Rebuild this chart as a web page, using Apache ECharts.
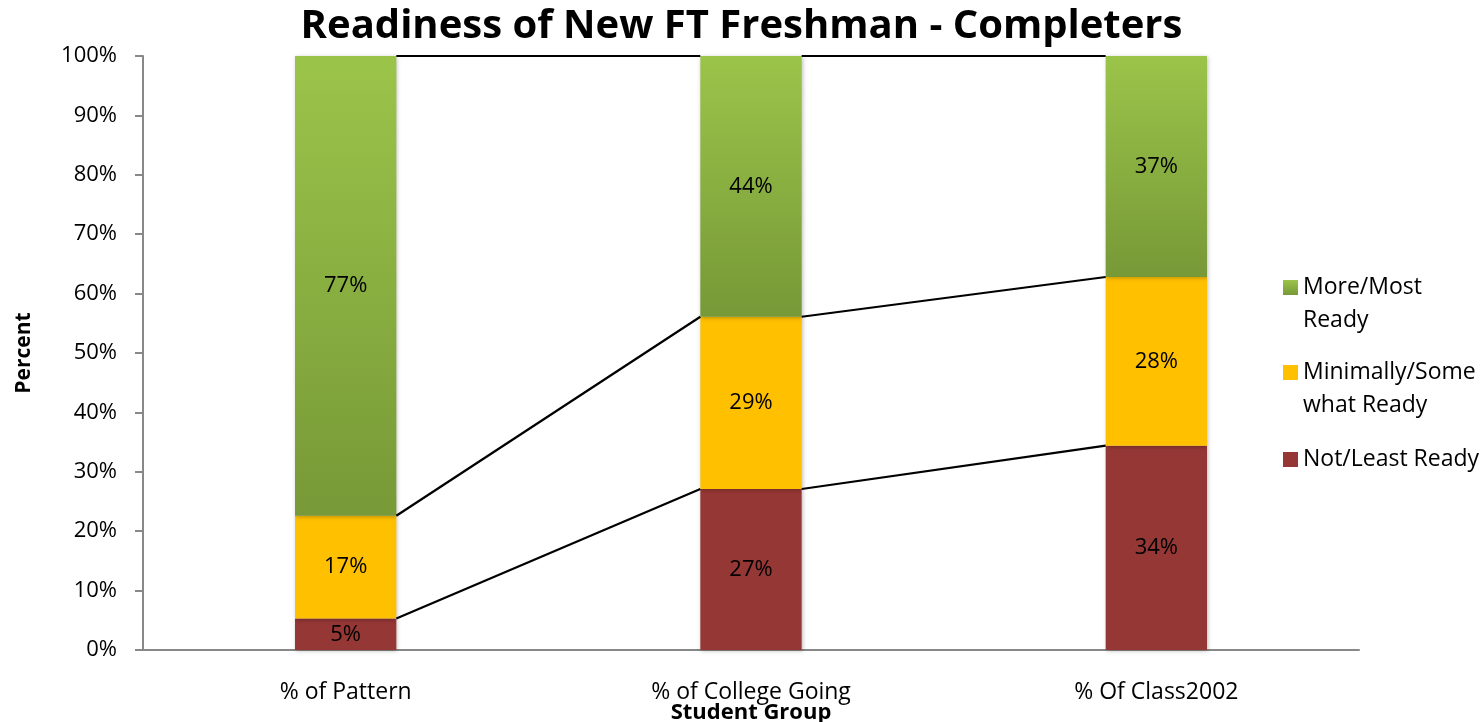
<!DOCTYPE html>
<html>
<head>
<meta charset="utf-8">
<script src="https://cdn.jsdelivr.net/npm/echarts@6/dist/echarts.min.js"></script>
<style>
html,body{margin:0;padding:0;background:#fff;}
#chart{width:1483px;height:722px;}
</style>
</head>
<body>
<div id="chart"></div>
<script>
var categories = ['% of Pattern', '% of College Going', '% Of Class2002'];
var notReady = [5.3, 27.1, 34.4];
var minReady = [17.3, 29.0, 28.4];
var moreReady = [77.4, 43.9, 37.2];
var yTicks = [0, 10, 20, 30, 40, 50, 60, 70, 80, 90, 100];
var legendNames = ['More/Most Ready', 'Minimally/Some what Ready', 'Not/Least Ready'];
var legendText = [' \nMore/Most\nReady', ' \nMinimally/Some\nwhat Ready', 'Not/Least Ready'];

var font = 'Open Sans';
var barW = 0.25;

// stacked tops used for the series lines
var stacks = [notReady, minReady, moreReady];
var lineData = [];
var cum = categories.map(function () { return 0; });
stacks.forEach(function (s) {
    cum = cum.map(function (c, i) { return c + s[i]; });
    for (var i = 0; i < categories.length - 1; i++) {
        lineData.push([i, Math.min(cum[i], 100), Math.min(cum[i + 1], 100)]);
    }
});

var chart = echarts.init(document.getElementById('chart'));

var labelOpt = {
    show: true,
    position: 'inside',
    color: '#000',
    fontFamily: font,
    fontSize: 22,
    formatter: function (p) { return Math.round(p.value) + '%'; }
};
var shadow = { shadowColor: 'rgba(0,0,0,0.25)', shadowBlur: 4, shadowOffsetX: 1, shadowOffsetY: 1 };

// one legend per item so the icon sits on the first text line
var legendTops = [233, 318, 438];
var legends = legendNames.map(function (n, i) {
    return {
        orient: 'vertical',
        left: 1278,
        top: legendTops[i],
        icon: 'rect',
        itemWidth: 15,
        itemHeight: 15,
        data: [n],
        formatter: function () { return legendText[i]; },
        textStyle: { fontFamily: font, fontSize: 23, color: '#000', lineHeight: 33 }
    };
});

chart.setOption({
    animation: false,
    title: {
        text: 'Readiness of New FT Freshman - Completers',
        left: 'center',
        top: 2,
        textStyle: { fontFamily: font, fontSize: 40, fontWeight: 'bold', color: '#000' }
    },
    grid: { left: 143, right: 124, top: 56, bottom: 72, outerBoundsMode: 'none' },
    legend: legends,
    xAxis: {
        type: 'category',
        data: categories,
        name: 'Student Group',
        nameLocation: 'middle',
        nameGap: 52,
        nameMoveOverlap: false,
        nameTextStyle: { fontFamily: font, fontSize: 22, fontWeight: 'bold', color: '#000' },
        axisLine: { lineStyle: { color: '#888', width: 2 } },
        axisTick: { show: false },
        axisLabel: { fontFamily: font, fontSize: 23, color: '#000', margin: 31 }
    },
    yAxis: {
        type: 'value',
        min: 0,
        max: 100,
        interval: 10,
        name: 'Percent',
        nameLocation: 'middle',
        nameGap: 108,
        nameMoveOverlap: false,
        nameTextStyle: { fontFamily: font, fontSize: 21, fontWeight: 'bold', color: '#000' },
        splitLine: { show: false },
        axisLine: { show: true, lineStyle: { color: '#888', width: 2 } },
        axisTick: { show: true, inside: false, length: 8, lineStyle: { color: '#888', width: 2 } },
        axisLabel: {
            fontFamily: font, fontSize: 22, color: '#000', margin: 26,
            formatter: function (v) { return yTicks.indexOf(v) >= 0 ? v + '%' : ''; }
        }
    },
    series: [
        {
            name: 'Not/Least Ready',
            type: 'bar',
            stack: 'total',
            barWidth: (barW * 100) + '%',
            data: notReady,
            itemStyle: Object.assign({ color: '#953735' }, shadow),
            label: labelOpt,
            z: 3
        },
        {
            name: 'Minimally/Some what Ready',
            type: 'bar',
            stack: 'total',
            data: minReady,
            itemStyle: Object.assign({ color: '#FFC000' }, shadow),
            label: labelOpt,
            z: 3
        },
        {
            name: 'More/Most Ready',
            type: 'bar',
            stack: 'total',
            data: moreReady,
            itemStyle: Object.assign({
                color: new echarts.graphic.LinearGradient(0, 0, 0, 1, [
                    { offset: 0, color: '#9BC44A' },
                    { offset: 1, color: '#779937' }
                ])
            }, shadow),
            label: labelOpt,
            z: 3
        },
        {
            type: 'custom',
            silent: true,
            data: lineData,
            z: 4,
            renderItem: function (params, api) {
                var i = api.value(0);
                var p1 = api.coord([i, api.value(1)]);
                var p2 = api.coord([i + 1, api.value(2)]);
                var half = api.size([1, 0])[0] * barW / 2;
                return {
                    type: 'line',
                    shape: { x1: p1[0] + half, y1: p1[1], x2: p2[0] - half, y2: p2[1] },
                    style: { stroke: '#000', lineWidth: 2.2 }
                };
            }
        }
    ]
});
</script>
</body>
</html>
